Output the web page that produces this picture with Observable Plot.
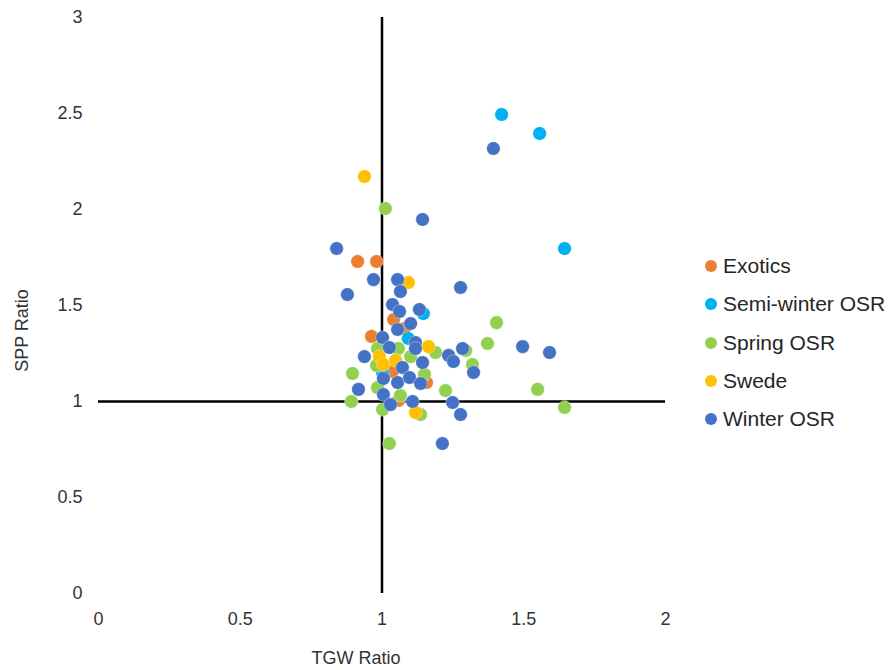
<!DOCTYPE html>
<html>
<head>
<meta charset="utf-8">
<script src="https://cdn.jsdelivr.net/npm/d3@7"></script>
<script src="https://cdn.jsdelivr.net/npm/@observablehq/plot@0.6"></script>
<style>
  html, body { margin: 0; padding: 0; background: #fff; }
  #chart { position: relative; width: 892px; height: 670px; font-family: "Liberation Sans", Arial, sans-serif; }
  #legend { position: absolute; left: 705px; top: 247px; color: #262626; font-size: 21px; }
  #legend .item { display: flex; align-items: center; height: 38.3px; white-space: nowrap; }
  #legend .sw { width: 12px; height: 12px; border-radius: 50%; margin-right: 6px; flex: none; }
</style>
</head>
<body>
<div id="chart"><div id="legend"></div></div>
<script>
// Group names and their colours
const groups = ["Exotics", "Semi-winter OSR", "Spring OSR", "Swede", "Winter OSR"];
const colors = ["#ED7D31", "#00B0F0", "#92D050", "#FFC000", "#4472C4"];

// TGW ratio (x) and SPP ratio (y) for each line, by group
const exoticsTGW = [0.914, 0.981, 0.963, 1.041, 1.079, 1.058, 1.157, 1.037];
const exoticsSPP = [1.729, 1.729, 1.339, 1.427, 1.380, 1.005, 1.099, 1.156];

const semiWinterTGW = [1.422, 1.556, 1.644, 1.146, 1.093, 1.002];
const semiWinterSPP = [2.495, 2.396, 1.797, 1.458, 1.328, 1.151];

const springTGW = [1.012, 1.404, 1.372, 1.319, 1.295, 1.224, 1.549, 1.644, 1.026, 0.892, 1.002,
                   1.136, 1.065, 0.984, 0.896, 0.984, 1.058, 1.101, 1.189, 0.981, 1.150];
const springSPP = [2.005, 1.411, 1.302, 1.193, 1.266, 1.057, 1.063, 0.969, 0.781, 1.000, 0.958,
                   0.932, 1.031, 1.073, 1.146, 1.276, 1.276, 1.234, 1.255, 1.188, 1.141];

const swedeTGW = [0.938, 1.093, 1.164, 0.991, 1.005, 1.048, 1.118];
const swedeSPP = [2.172, 1.620, 1.286, 1.234, 1.193, 1.214, 0.943];

const winterTGW = [1.393, 1.143, 0.840, 0.878, 0.970, 1.055, 1.065, 1.277, 1.037, 1.062, 1.132,
                   1.101, 1.055, 1.002, 1.026, 0.938, 1.118, 1.118, 1.284, 1.235, 1.252, 1.323,
                   1.496, 1.591, 1.143, 1.072, 1.005, 1.055, 1.097, 1.136, 0.917, 1.005, 1.030,
                   1.108, 1.249, 1.277, 1.213];
const winterSPP = [2.318, 1.948, 1.797, 1.557, 1.635, 1.635, 1.573, 1.594, 1.505, 1.469, 1.479,
                   1.406, 1.375, 1.333, 1.281, 1.234, 1.307, 1.276, 1.276, 1.240, 1.208, 1.151,
                   1.286, 1.255, 1.203, 1.177, 1.120, 1.099, 1.125, 1.094, 1.063, 1.036, 0.984,
                   1.000, 0.995, 0.932, 0.781];

// Axis ticks and the point where the axes cross
const xTicks = [0, 0.5, 1, 1.5, 2];
const yTicks = [0, 0.5, 1, 1.5, 2, 2.5, 3];
const crossX = 1;
const crossY = 1;

const series = [
  [exoticsTGW, exoticsSPP],
  [semiWinterTGW, semiWinterSPP],
  [springTGW, springSPP],
  [swedeTGW, swedeSPP],
  [winterTGW, winterSPP]
];
const points = series.flatMap(([xs, ys], i) =>
  xs.map((x, j) => ({group: groups[i], tgw: x, spp: ys[j]})));

const font = "Liberation Sans, Arial, sans-serif";

const plot = Plot.plot({
  width: 892,
  height: 670,
  marginLeft: 98,
  marginRight: 227,
  marginTop: 17,
  marginBottom: 77,
  style: {fontFamily: font, fontSize: "18px", color: "#333", background: "#fff"},
  x: {domain: [0, 2], ticks: xTicks},
  y: {domain: [0, 3], ticks: yTicks},
  color: {domain: groups, range: colors},
  marks: [
    Plot.axisX({ticks: xTicks, tickSize: 0, tickPadding: 19, tickFormat: d => String(d), label: null, fontSize: 18}),
    Plot.axisY({ticks: yTicks, tickSize: 0, tickPadding: 16, tickFormat: d => String(d), label: null, fontSize: 18}),
    Plot.ruleX([crossX], {y1: yTicks[0], y2: yTicks[yTicks.length - 1], stroke: "#000", strokeWidth: 2.5}),
    Plot.ruleY([crossY], {x1: xTicks[0], x2: xTicks[xTicks.length - 1], stroke: "#000", strokeWidth: 2.5}),
    Plot.dot(points, {x: "tgw", y: "spp", fill: "group", r: 6.8, stroke: "#fff", strokeWidth: 0.6, strokeOpacity: 0.6}),
    Plot.text(["TGW Ratio"], {frameAnchor: "bottom", textAnchor: "middle", dx: -26, dy: 65, fontSize: 18, fill: "#333", lineAnchor: "middle"}),
    Plot.text(["SPP Ratio"], {frameAnchor: "left", textAnchor: "middle", dx: -76, dy: 25, rotate: -90, fontSize: 18, fill: "#333", lineAnchor: "middle"})
  ]
});
document.getElementById("chart").prepend(plot);
plot.style.position = "absolute";
plot.style.left = "0";
plot.style.top = "0";

// Legend, one row per group
const legend = d3.select("#legend");
groups.forEach((g, i) => {
  const row = legend.append("div").attr("class", "item");
  row.append("div").attr("class", "sw").style("background", colors[i]);
  row.append("span").text(g);
});
</script>
</body>
</html>
